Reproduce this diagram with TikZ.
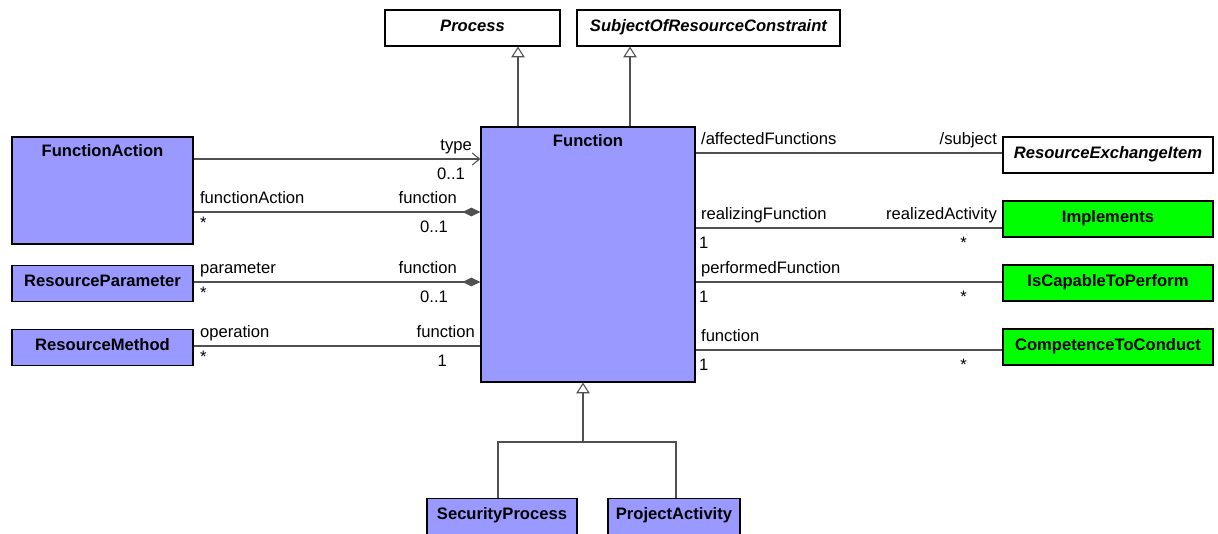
\documentclass[tikz,border=0pt]{standalone}
\usepackage{fontspec}
\setmainfont{Liberation Sans}[Scale=1.245]
\usetikzlibrary{arrows.meta}

\definecolor{clsblue}{RGB}{153,153,255}
\definecolor{clsgreen}{RGB}{0,255,0}
\definecolor{lnkgray}{RGB}{80,80,80}

\tikzset{
  cls/.style={draw=black, line width=0.9pt, fill=#1, inner sep=0pt,
    minimum height=27pt, text height=9pt, text depth=4pt, font=\bfseries},
  cls/.default=clsblue,
  abstr/.style={cls=white, font=\bfseries\itshape},
  toplbl/.style={anchor=base, yshift=-15pt, font=\bfseries},
  lnk/.style={draw=lnkgray, line width=0.8pt},
  gen/.style={lnk, -{Triangle[open, length=8pt, width=10pt, fill=white]}},
  nav/.style={lnk, -{Straight Barb[length=5.5pt, width=9pt]}},
  comp/.style={lnk, -{Diamond[length=13.5pt, width=6.5pt, fill=lnkgray]}},
  srcup/.style={anchor=base west, inner sep=0pt, yshift=6.4pt},
  srcdn/.style={anchor=base west, inner sep=0pt, yshift=-15pt},
  dstup/.style={anchor=base east, inner sep=0pt, yshift=6.4pt},
  dstdn/.style={anchor=base east, inner sep=0pt, yshift=-15pt}
}

\begin{document}
\begin{tikzpicture}[x=0.75pt,y=-0.75pt]
\useasboundingbox (0,0) rectangle (1218,533);

% classes
\node[abstr, minimum width=131.25pt] (proc) at (472.5,28) {Process};
\node[abstr, minimum width=197.25pt] (subj) at (708.5,28) {SubjectOfResourceConstraint};
\node[cls, minimum width=160.5pt, minimum height=191.25pt,
  label={[toplbl]north:Function}] (fn) at (588,254.5) {};
\node[cls, minimum width=135.75pt, minimum height=80.25pt,
  label={[toplbl]north:FunctionAction}] (fa) at (102.5,190.5) {};
\node[cls, minimum width=135.75pt] (rp) at (102.5,283.5) {ResourceParameter};
\node[cls, minimum width=135.75pt] (rm) at (102.5,347.5) {ResourceMethod};
\node[abstr, minimum width=157.5pt] (rei) at (1108,155) {ResourceExchangeItem};
\node[cls=clsgreen, minimum width=157.5pt] (impl) at (1108,219) {Implements};
\node[cls=clsgreen, minimum width=157.5pt] (icp) at (1108,283) {IsCapableToPerform};
\node[cls=clsgreen, minimum width=157.5pt] (ctc) at (1108,347) {CompetenceToConduct};
\node[cls, minimum width=112.5pt] (sp) at (502,516.5) {SecurityProcess};
\node[cls, minimum width=99pt] (pa) at (674,516.5) {ProjectActivity};

% generalizations
\draw[gen] (fn.north -| 518,0) -- (proc.south -| 518,0);
\draw[gen] (fn.north -| 630,0) -- (subj.south -| 630,0);
\coordinate (jn) at (583,442);
\draw[gen] (jn) -- (fn.south -| jn);
\draw[lnk] (sp.north -| 498,0) |- (jn) -| (pa.north -| 676,0);

% associations left
\draw[nav] (fa.east |- 0,159) -- (fn.west |- 0,159)
  node[pos=1, dstup, xshift=-6pt] {type}
  node[pos=1, dstdn, xshift=-11.25pt] {0..1};
\draw[comp] (fa.east |- 0,212) -- (fn.west |- 0,212)
  node[pos=0, srcup, xshift=4.5pt] {functionAction}
  node[pos=0, srcdn, xshift=4.5pt, yshift=3pt] {*}
  node[pos=1, dstup, xshift=-17.25pt] {function}
  node[pos=1, dstdn, xshift=-24pt] {0..1};
\draw[comp] (rp.east |- 0,282) -- (fn.west |- 0,282)
  node[pos=0, srcup, xshift=4.5pt] {parameter}
  node[pos=0, srcdn, xshift=4.5pt, yshift=3pt] {*}
  node[pos=1, dstup, xshift=-17.25pt] {function}
  node[pos=1, dstdn, xshift=-24pt] {0..1};
\draw[lnk] (rm.east |- 0,346) -- (fn.west |- 0,346)
  node[pos=0, srcup, xshift=4.5pt] {operation}
  node[pos=0, srcdn, xshift=4.5pt, yshift=3pt] {*}
  node[pos=1, dstup, xshift=-3.75pt] {function}
  node[pos=1, dstdn, xshift=-24.75pt] {1};

% associations right
\draw[lnk] (fn.east |- 0,153) -- (rei.west |- 0,153)
  node[pos=0, srcup, xshift=3.75pt] {/affectedFunctions}
  node[pos=1, dstup, xshift=-3.75pt] {/subject};
\draw[lnk] (fn.east |- 0,228) -- (impl.west |- 0,228)
  node[pos=0, srcup, xshift=3.75pt] {realizingFunction}
  node[pos=0, srcdn, xshift=2.25pt] {1}
  node[pos=1, dstup, xshift=-3.75pt] {realizedActivity}
  node[pos=1, dstdn, xshift=-26.25pt] {*};
\draw[lnk] (fn.east |- 0,282) -- (icp.west |- 0,282)
  node[pos=0, srcup, xshift=3.75pt] {performedFunction}
  node[pos=0, srcdn, xshift=2.25pt] {1}
  node[pos=1, dstdn, xshift=-26.25pt] {*};
\draw[lnk] (fn.east |- 0,350) -- (ctc.west |- 0,350)
  node[pos=0, srcup, xshift=3.75pt] {function}
  node[pos=0, srcdn, xshift=2.25pt] {1}
  node[pos=1, dstdn, xshift=-26.25pt] {*};
\end{tikzpicture}
\end{document}
